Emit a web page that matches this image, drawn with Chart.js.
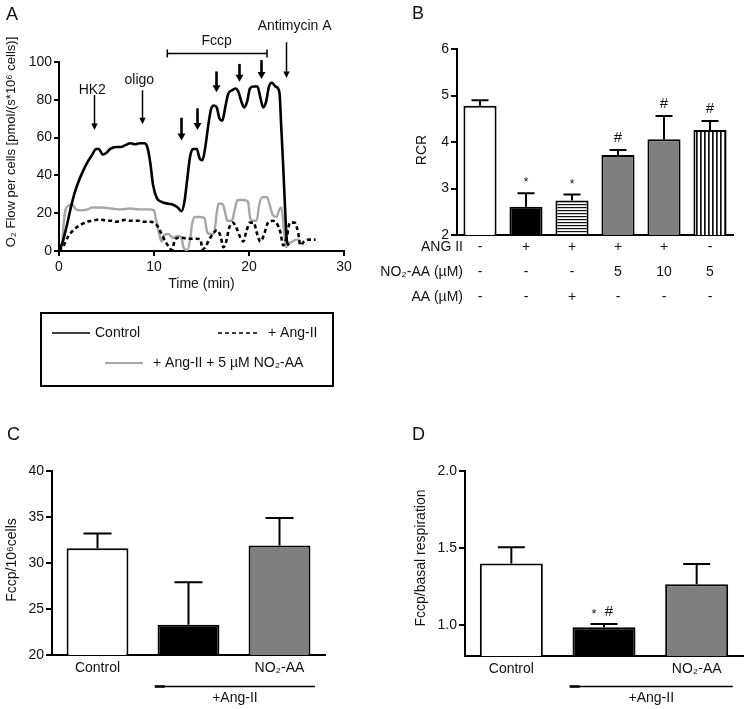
<!DOCTYPE html>
<html><head><meta charset="utf-8">
<script src="https://cdn.jsdelivr.net/npm/chart.js@4.4.1/dist/chart.umd.min.js"></script>
<style>
html,body{margin:0;padding:0;background:#fff;}
#wrap{position:relative;width:744px;height:709px;background:#fff;overflow:hidden;}
canvas{position:absolute;}
</style></head><body>
<div id="wrap">
<canvas id="cA" width="372" height="400" style="left:0;top:0;width:372px;height:400px"></canvas>
<canvas id="cB" width="372" height="320" style="left:372px;top:0;width:372px;height:320px"></canvas>
<canvas id="cC" width="372" height="309" style="left:0;top:400px;width:372px;height:309px"></canvas>
<canvas id="cD" width="372" height="309" style="left:372px;top:400px;width:372px;height:309px"></canvas>
</div>
<script>
// ---------------- DATA ----------------
// Panel A: O2 flow traces (time in min, flow in pmol/(s*10^6 cells))
const timeControl = [0,0.4,0.8,1.2,1.6,2.0,2.5,3.0,3.5,3.9,4.2,4.6,5.0,5.4,6.0,6.5,7.0,7.5,8.0,8.5,9.0,9.3,9.6,9.9,10.3,10.8,11.5,12.0,12.5,12.9,13.2,13.5,13.8,14.1,14.5,14.8,15.1,15.4,15.7,16.0,16.3,16.6,16.9,17.2,17.5,17.8,18.2,18.6,18.9,19.2,19.5,19.8,20.1,20.5,20.9,21.2,21.5,21.8,22.1,22.4,22.8,23.2,23.4,23.6,23.8,24.0,24.2];
const o2Control   = [0,5,13,22,30,36,42,47,51,54,54,51,52,54,55,55,56,57,56.5,57,57,55,47,35,28,26,25,24.5,23,21,26,38,50,54,54,49,48,55,66,75,77,76,70,69,76,83,85,86,84,79,76,79,86,87,87,81,76,79,87,89,87,84,65,45,22,5,3];
const timeAngII = [0,0.5,1.0,1.5,2.0,2.5,3.0,3.5,4.0,4.5,5.0,5.5,6.0,6.5,7.0,7.5,8.0,8.5,9.0,9.5,10.0,10.4,10.8,11.2,11.6,11.9,12.2,12.6,13.0,13.5,14.0,14.5,14.9,15.1,15.4,15.8,16.2,16.6,17.0,17.3,17.6,17.9,18.3,18.7,19.1,19.4,19.7,20.1,20.5,20.8,21.2,21.6,22.0,22.5,23.0,23.3,23.6,24.0,24.3,24.8,25.2,25.4,25.8,26.3,27.0];
const o2AngII   = [0,3,8,11,13,14.5,15.5,16,16.5,16.5,16,16,15.5,16,16.5,16,16,16,15.5,15.5,15,13,9,5,2,0.5,6,7,7,6.5,6.5,6.5,6,1,2,6,9,11,8,2,5,12,15,12,7,5,10,15,15,10,5,9,15,16,14,10,3,8,15,15,9,3,5,6,6];
const timeNO2AA = [0,0.3,0.5,0.7,1.0,1.4,1.8,2.3,3.0,3.5,4.5,5.5,6.5,7.5,8.5,9.5,10.0,10.2,10.5,10.8,11.0,11.5,12.0,12.5,12.9,13.1,13.5,13.8,14.0,14.3,14.8,15.3,15.6,15.9,16.3,16.6,16.8,17.2,17.5,17.7,18.2,18.5,18.8,19.4,19.9,20.1,20.4,20.8,21.1,21.4,21.9,22.2,22.5,22.9,23.2,23.4,23.7,23.9,24.2,24.6,25.0,25.4];
const o2NO2AA   = [0,3,15,22,24,24.5,22,21.5,22,23,23,22.5,22,22.5,22,22,21.5,17,10,5,8,9,7,8,7,2,0.5,6,14,18,18,17.5,10,9,9,20,25,25,20,16,16,22,27,27,26,18,16,16,25,28.5,28.5,24,19,18,22,23,10,2,4,5,6,6];
const seriesLabels = ['Control', '+ Ang-II', '+ Ang-II + 5 µM NO₂-AA'];
const xTicksA = [0, 10, 20, 30];
const yTicksA = [0, 20, 40, 60, 80, 100];

// Panel B: RCR
const angIIRow  = ['-', '+', '+', '+', '+', '-'];
const no2aaRow  = ['-', '-', '-', '5', '10', '5'];
const aaRow     = ['-', '-', '+', '-', '-', '-'];
const rowTitlesB = ['ANG II', 'NO₂-AA (µM)', 'AA (µM)'];
const rcrMean = [4.78, 2.61, 2.74, 3.72, 4.06, 4.26];
const rcrErr  = [0.12, 0.29, 0.13, 0.11, 0.50, 0.19];
const rcrMarks = ['', '*', '*', '#', '#', '#'];
const yTicksB = [2, 3, 4, 5, 6];

// Panel C: Fccp / 10^6 cells
const catsCD = ['Control', '', 'NO₂-AA'];
const fccpMean = [31.6, 23.3, 31.9];
const fccpErr  = [1.6, 4.6, 3.0];
const yTicksC = [20, 25, 30, 35, 40];

// Panel D: Fccp / basal respiration
const ratioMean = [1.40, 0.986, 1.265];
const ratioErr  = [0.105, 0.021, 0.131];
const ratioMarks = ['', '* #', ''];
const yTicksD = [1.0, 1.5, 2.0];

// Panel A annotations (time, flow units)
const arrowsA = [
  {t:3.7,  from:82.5, to:64,   heavy:false},
  {t:8.75, from:85,   to:67,   heavy:false},
  {t:12.85,from:70.5, to:58.5, heavy:true},
  {t:14.55,from:75.5, to:64,   heavy:true},
  {t:16.5, from:95,   to:84,   heavy:true},
  {t:18.9, from:99,   to:89.5, heavy:true},
  {t:21.25,from:101,  to:91,   heavy:true},
  {t:23.9, from:110.5,to:91.5, heavy:false}
];
const labelsA = [
  {text:'HK2', t:3.5, v:85.2},
  {text:'oligo', t:8.45, v:90.5},
  {text:'Fccp', t:16.6, v:111},
  {text:'Antimycin A', t:24.8, v:119}
];
const fccpBracket = {t1:11.4, t2:21.9, v:105};

// ---------------- HELPERS ----------------
Chart.defaults.font.family = "'Liberation Sans', Arial, sans-serif";
Chart.defaults.font.size = 14;
Chart.defaults.color = '#111';
const FONT = "'Liberation Sans', Arial, sans-serif";
const TXT = '#111';

function pts(ts, vs){ return ts.map((t,i)=>({x:t, y:vs[i]})); }
function fixedTicks(list){ return axis => { axis.ticks = list.map(v=>({value:v})); }; }

function text(ctx, s, x, y, size, align, base){
  ctx.font = size + 'px ' + FONT;
  ctx.fillStyle = TXT;
  ctx.textAlign = align || 'center';
  ctx.textBaseline = base || 'middle';
  ctx.fillText(s, x, y);
}
function vtext(ctx, s, x, y, size){
  ctx.save();
  ctx.translate(x, y);
  ctx.rotate(-Math.PI/2);
  text(ctx, s, 0, 0, size, 'center', 'middle');
  ctx.restore();
}
function arrow(ctx, x, y1, y2, heavy){
  const hw = heavy ? 4 : 3.2, hh = heavy ? 7 : 6.5;
  ctx.strokeStyle = '#000'; ctx.fillStyle = '#000';
  ctx.lineWidth = heavy ? 2.6 : 1.5;
  ctx.beginPath(); ctx.moveTo(x, y1); ctx.lineTo(x, y2 - hh + 1); ctx.stroke();
  ctx.beginPath(); ctx.moveTo(x - hw, y2 - hh); ctx.lineTo(x + hw, y2 - hh); ctx.lineTo(x, y2); ctx.closePath(); ctx.fill();
}

function yScale(min, max, list, width, tickLen, fmt){
  return {
    type:'linear', min:min, max:max,
    afterBuildTicks: fixedTicks(list),
    ticks:{padding:2, color:TXT, font:{size:14}, callback: fmt || (v=>v)},
    grid:{display:true, drawOnChartArea:false, drawTicks:true, tickLength:tickLen, color:'#000', lineWidth:2},
    border:{display:true, color:'#000', width:2},
    afterFit(s){ s.width = width; }
  };
}
function catScale(height, pad, lh){
  return {
    type:'category', offset:true,
    grid:{display:false, drawTicks:false},
    border:{display:true, color:'#000', width:2},
    ticks:{padding:pad, autoSkip:false, maxRotation:0, minRotation:0, color:TXT, font:{size:14, lineHeight:lh}},
    afterFit(s){ s.height = height; }
  };
}
function errorBars(errs, cap, marks, markSize, gap){
  return {
    id:'errorBars',
    afterDatasetsDraw(chart){
      const ctx = chart.ctx, y = chart.scales.y, meta = chart.getDatasetMeta(0);
      const vals = chart.data.datasets[0].data;
      ctx.save();
      ctx.strokeStyle = '#000'; ctx.lineWidth = 2;
      meta.data.forEach((bar, i) => {
        const top = y.getPixelForValue(vals[i] + errs[i]);
        ctx.beginPath();
        ctx.moveTo(bar.x, bar.y); ctx.lineTo(bar.x, top);
        ctx.moveTo(bar.x - cap, top); ctx.lineTo(bar.x + cap, top);
        ctx.stroke();
        if (marks && marks[i]) {
          const m = marks[i];
          if (m === '* #') {
            text(ctx, '*', bar.x - 10, top - gap + 2, markSize - 2);
            text(ctx, '#', bar.x + 5, top - gap, markSize);
          } else if (m === '*') {
            text(ctx, '*', bar.x, top - gap + 2, markSize - 3);
          } else {
            text(ctx, m, bar.x, top - gap, markSize);
          }
        }
      });
      ctx.restore();
    }
  };
}
function makePattern(horizontal){
  const c = document.createElement('canvas');
  c.width = horizontal ? 4 : 4; c.height = horizontal ? 3 : 4;
  const g = c.getContext('2d');
  g.fillStyle = '#fff'; g.fillRect(0, 0, c.width, c.height);
  g.fillStyle = '#111';
  if (horizontal) g.fillRect(0, 0, c.width, 1.2);
  else { g.fillRect(0, 0, 1.7, c.height); }
  return g.createPattern(c, 'repeat');
}
const common = {responsive:false, animation:false, devicePixelRatio:1,
  plugins:{legend:{display:false}, tooltip:{enabled:false}}, events:[]};

// ---------------- PANEL A ----------------
const panelA = {
  id:'panelA',
  afterDraw(chart){
    const ctx = chart.ctx, x = chart.scales.x, y = chart.scales.y;
    ctx.save();
    text(ctx, 'A', 6, 20, 18, 'left', 'alphabetic');
    vtext(ctx, 'O₂ Flow per cells [pmol/(s*10⁶ cells)]', 11, 142, 13);
    arrowsA.forEach(a => arrow(ctx, Math.round(x.getPixelForValue(a.t)) + 0.5, y.getPixelForValue(a.from), y.getPixelForValue(a.to), a.heavy));
    labelsA.forEach(l => text(ctx, l.text, x.getPixelForValue(l.t), y.getPixelForValue(l.v), 14));
    // Fccp bracket
    const bx1 = x.getPixelForValue(fccpBracket.t1), bx2 = x.getPixelForValue(fccpBracket.t2), by = Math.round(y.getPixelForValue(fccpBracket.v)) + 0.5;
    ctx.strokeStyle = '#000'; ctx.lineWidth = 1.5;
    ctx.beginPath();
    ctx.moveTo(bx1, by); ctx.lineTo(bx2, by);
    ctx.moveTo(bx1, by - 4); ctx.lineTo(bx1, by + 4);
    ctx.moveTo(bx2, by - 4); ctx.lineTo(bx2, by + 4);
    ctx.stroke();
    // legend box
    const ds = chart.data.datasets;
    ctx.lineWidth = 2; ctx.strokeStyle = '#000';
    ctx.strokeRect(41, 313, 292, 73);
    const entries = [
      {i:0, x1:52, x2:90, y:333},
      {i:1, x1:218, x2:260, y:333},
      {i:2, x1:105, x2:143, y:363}
    ];
    entries.forEach(e => {
      const d = ds[e.i];
      ctx.save();
      ctx.strokeStyle = d.borderColor; ctx.lineWidth = e.i === 2 ? 2 : 1.6;
      ctx.setLineDash(d.borderDash || []);
      ctx.beginPath(); ctx.moveTo(e.x1, e.y); ctx.lineTo(e.x2, e.y); ctx.stroke();
      ctx.restore();
      text(ctx, d.label, e.x2 + (e.i === 1 ? 8 : (e.i===2 ? 10 : 5)), e.y, 14, 'left', 'middle');
    });
    ctx.restore();
  }
};
new Chart(document.getElementById('cA'), {
  type:'line',
  data:{datasets:[
    {label:seriesLabels[0], data:pts(timeControl, o2Control), borderColor:'#000', borderWidth:2.6, pointRadius:0, cubicInterpolationMode:'monotone', tension:0.3},
    {label:seriesLabels[1], data:pts(timeAngII, o2AngII), borderColor:'#000', borderWidth:2.6, borderDash:[4,3], pointRadius:0, cubicInterpolationMode:'monotone', tension:0.3},
    {label:seriesLabels[2], data:pts(timeNO2AA, o2NO2AA), borderColor:'#a6a6a6', borderWidth:2.4, pointRadius:0, cubicInterpolationMode:'monotone', tension:0.3}
  ]},
  options:Object.assign({}, common, {
    layout:{padding:{left:0, top:62, right:28, bottom:107}},
    scales:{
      x:{type:'linear', min:0, max:30,
         afterBuildTicks: fixedTicks(xTicksA),
         ticks:{padding:3, color:TXT, font:{size:14}},
         grid:{display:true, drawOnChartArea:false, drawTicks:true, tickLength:5, color:'#000', lineWidth:2},
         border:{display:true, color:'#000', width:2},
         title:{display:true, text:'Time (min)', color:TXT, font:{size:14}, padding:0},
         afterFit(s){ s.height = 42; }},
      y: yScale(0, 100, yTicksA, 59, 5)
    }
  }),
  plugins:[panelA]
});

// ---------------- PANEL B ----------------
const panelB = {
  id:'panelB',
  afterDraw(chart){
    const ctx = chart.ctx, area = chart.chartArea;
    ctx.save();
    text(ctx, 'B', 40, 19, 18, 'left', 'alphabetic');
    vtext(ctx, 'RCR', 50, 150, 14);
    const lh = 14 * 1.786;
    rowTitlesB.forEach((t, i) => text(ctx, t, 91, area.bottom + lh/2 + i*lh, 14, 'right', 'middle'));
    ctx.restore();
  }
};
new Chart(document.getElementById('cB'), {
  type:'bar',
  data:{
    labels: angIIRow.map((a, i) => [a, no2aaRow[i], aaRow[i]]),
    datasets:[{data:rcrMean,
      backgroundColor:['#ffffff', '#000000', makePattern(true), '#7f7f7f', '#7f7f7f', makePattern(false)],
      borderColor:'#000', borderWidth:2, borderSkipped:false, barPercentage:0.72, categoryPercentage:1}]
  },
  options:Object.assign({}, common, {
    layout:{padding:{left:0, top:49, right:11, bottom:0}},
    scales:{ x: catScale(85, 0, 1.786), y: yScale(2, 6, yTicksB, 85, 6) }
  }),
  plugins:[panelB, errorBars(rcrErr, 8.5, rcrMarks, 15, 12)]
});

// ---------------- PANEL C ----------------
function bracketPlugin(letter, letterX, title, titleX, titleY){
  return {
    id:'bracket',
    afterDraw(chart){
      const ctx = chart.ctx, x = chart.scales.x;
      const cw = x.getPixelForValue(1) - x.getPixelForValue(0);
      const x1 = x.getPixelForValue(1) - 0.37*cw, x2 = x.getPixelForValue(2) + 0.39*cw;
      ctx.save();
      text(ctx, letter, letterX, 40, 18, 'left', 'alphabetic');
      vtext(ctx, title, titleX, titleY, 14);
      ctx.strokeStyle = '#000'; ctx.lineWidth = 1.5;
      ctx.beginPath(); ctx.moveTo(x1, 286.5); ctx.lineTo(x2, 286.5); ctx.stroke();
      ctx.lineWidth = 2.5;
      ctx.beginPath(); ctx.moveTo(x1, 286.5); ctx.lineTo(x1 + 10, 286.5); ctx.stroke();
      text(ctx, '+Ang-II', (x1 + x2)/2, 298, 14);
      ctx.restore();
    }
  };
}
new Chart(document.getElementById('cC'), {
  type:'bar',
  data:{labels:catsCD, datasets:[{data:fccpMean,
    backgroundColor:['#ffffff', '#000000', '#7f7f7f'],
    borderColor:'#000', borderWidth:2, borderSkipped:false, barPercentage:0.68, categoryPercentage:1}]},
  options:Object.assign({}, common, {
    layout:{padding:{left:0, top:71, right:47, bottom:14}},
    scales:{ x: catScale(40, 5, 1.2), y: yScale(20, 40, yTicksC, 52, 6) }
  }),
  plugins:[bracketPlugin('C', 7, 'Fccp/10⁶cells', 12, 160), errorBars(fccpErr, 14)]
});

// ---------------- PANEL D ----------------
new Chart(document.getElementById('cD'), {
  type:'bar',
  data:{labels:catsCD, datasets:[{data:ratioMean,
    backgroundColor:['#ffffff', '#000000', '#7f7f7f'],
    borderColor:'#000', borderWidth:2, borderSkipped:false, barPercentage:0.68, categoryPercentage:1}]},
  options:Object.assign({}, common, {
    layout:{padding:{left:0, top:71, right:1, bottom:13}},
    scales:{ x: catScale(40, 5, 1.2), y: yScale(0.8, 2.0, yTicksD, 93, 6, v => v.toFixed(1)) }
  }),
  plugins:[bracketPlugin('D', 40, 'Fccp/basal respiration', 49, 158), errorBars(ratioErr, 13.5, ratioMarks, 15, 12)]
});
</script>
</body></html>
